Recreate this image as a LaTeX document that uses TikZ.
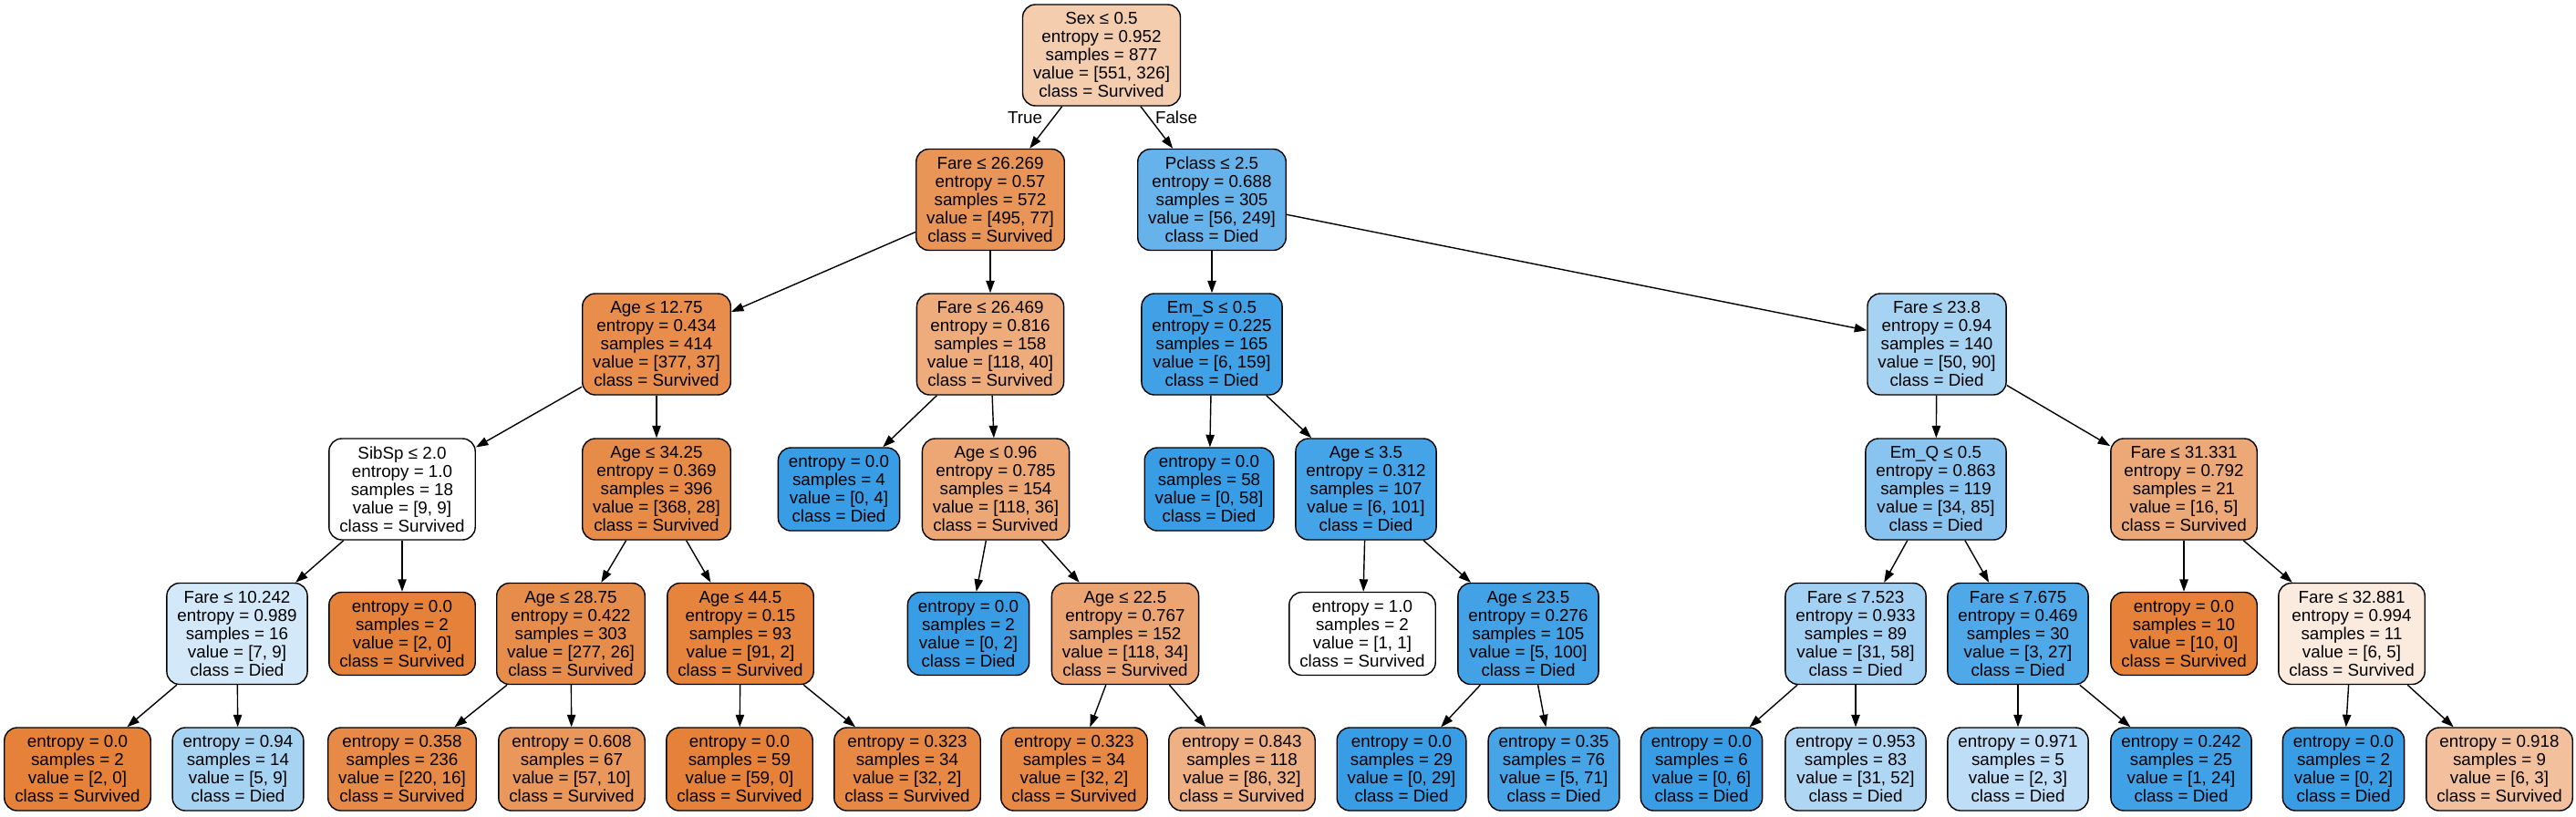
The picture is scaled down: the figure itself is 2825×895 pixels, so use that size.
\documentclass[tikz,border=0pt]{standalone}
\usepackage{fontspec}
\setmainfont{Liberation Sans}
\usetikzlibrary{arrows.meta}
\definecolor{surv}{RGB}{229,129,57}
\definecolor{died}{RGB}{57,157,229}
\tikzset{
  box/.style={draw=black, line width=0.7pt, rounded corners=7pt, align=center,
    inner xsep=5.75pt, inner ysep=0pt, font=\fontsize{9.4}{10}\selectfont},
  split/.style={box, minimum height=55.5pt},
  leaf/.style={box, minimum height=45.5pt},
  edge/.style={draw=black, line width=0.7pt, -{Triangle[length=6.75pt,width=4.7pt]}},
  lbl/.style={font=\fontsize{9.4}{10}\selectfont, inner sep=0pt}
}
\begin{document}
\begin{tikzpicture}[x=0.5pt,y=-0.5pt]
\useasboundingbox (0,0) rectangle (2825,895);
% level 0
\node[split, fill=surv!40.8!white] (n0) at (1208,60.5) {Sex ≤ 0.5\\entropy = 0.952\\samples = 877\\value = [551, 326]\\class = Survived};
% level 1
\node[split, fill=surv!84.4!white] (n1) at (1086,219) {Fare ≤ 26.269\\entropy = 0.57\\samples = 572\\value = [495, 77]\\class = Survived};
\node[split, fill=died!77.5!white] (n2) at (1329,219) {Pclass ≤ 2.5\\entropy = 0.688\\samples = 305\\value = [56, 249]\\class = Died};
% level 2
\node[split, fill=surv!90.2!white] (n3) at (720,377.5) {Age ≤ 12.75\\entropy = 0.434\\samples = 414\\value = [377, 37]\\class = Survived};
\node[split, fill=surv!66.1!white] (n4) at (1086,377.5) {Fare ≤ 26.469\\entropy = 0.816\\samples = 158\\value = [118, 40]\\class = Survived};
\node[split, fill=died!96.2!white] (n5) at (1329,377.5) {Em\_S ≤ 0.5\\entropy = 0.225\\samples = 165\\value = [6, 159]\\class = Died};
\node[split, fill=died!44.4!white] (n6) at (2124,377.5) {Fare ≤ 23.8\\entropy = 0.94\\samples = 140\\value = [50, 90]\\class = Died};
% level 3
\node[split, fill=white] (n7) at (441,536.5) {SibSp ≤ 2.0\\entropy = 1.0\\samples = 18\\value = [9, 9]\\class = Survived};
\node[split, fill=surv!92.4!white] (n8) at (720,536.5) {Age ≤ 34.25\\entropy = 0.369\\samples = 396\\value = [368, 28]\\class = Survived};
\node[leaf, fill=died] (n9) at (920,536.5) {entropy = 0.0\\samples = 4\\value = [0, 4]\\class = Died};
\node[split, fill=surv!69.5!white] (n10) at (1092,536.5) {Age ≤ 0.96\\entropy = 0.785\\samples = 154\\value = [118, 36]\\class = Survived};
\node[leaf, fill=died] (n11) at (1326,536.5) {entropy = 0.0\\samples = 58\\value = [0, 58]\\class = Died};
\node[split, fill=died!94.1!white] (n12) at (1498,536.5) {Age ≤ 3.5\\entropy = 0.312\\samples = 107\\value = [6, 101]\\class = Died};
\node[split, fill=died!60!white] (n13) at (2123,536.5) {Em\_Q ≤ 0.5\\entropy = 0.863\\samples = 119\\value = [34, 85]\\class = Died};
\node[split, fill=surv!68.8!white] (n14) at (2395,536.5) {Fare ≤ 31.331\\entropy = 0.792\\samples = 21\\value = [16, 5]\\class = Survived};
% level 4
\node[split, fill=died!22.2!white] (n15) at (260,695) {Fare ≤ 10.242\\entropy = 0.989\\samples = 16\\value = [7, 9]\\class = Died};
\node[leaf, fill=surv] (n16) at (441,695) {entropy = 0.0\\samples = 2\\value = [2, 0]\\class = Survived};
\node[split, fill=surv!90.6!white] (n17) at (626,695) {Age ≤ 28.75\\entropy = 0.422\\samples = 303\\value = [277, 26]\\class = Survived};
\node[split, fill=surv!97.8!white] (n18) at (812,695) {Age ≤ 44.5\\entropy = 0.15\\samples = 93\\value = [91, 2]\\class = Survived};
\node[leaf, fill=died] (n19) at (1062,695) {entropy = 0.0\\samples = 2\\value = [0, 2]\\class = Died};
\node[split, fill=surv!71.2!white] (n20) at (1234,695) {Age ≤ 22.5\\entropy = 0.767\\samples = 152\\value = [118, 34]\\class = Survived};
\node[leaf, fill=white] (n21) at (1494,695) {entropy = 1.0\\samples = 2\\value = [1, 1]\\class = Survived};
\node[split, fill=died!95!white] (n22) at (1676,695) {Age ≤ 23.5\\entropy = 0.276\\samples = 105\\value = [5, 100]\\class = Died};
\node[split, fill=died!46.6!white] (n23) at (2035,695) {Fare ≤ 7.523\\entropy = 0.933\\samples = 89\\value = [31, 58]\\class = Died};
\node[split, fill=died!88.9!white] (n24) at (2213,695) {Fare ≤ 7.675\\entropy = 0.469\\samples = 30\\value = [3, 27]\\class = Died};
\node[leaf, fill=surv] (n25) at (2395,695) {entropy = 0.0\\samples = 10\\value = [10, 0]\\class = Survived};
\node[split, fill=surv!16.7!white] (n26) at (2579,695) {Fare ≤ 32.881\\entropy = 0.994\\samples = 11\\value = [6, 5]\\class = Survived};
% level 5
\node[leaf, fill=surv] (n27) at (85,843.5) {entropy = 0.0\\samples = 2\\value = [2, 0]\\class = Survived};
\node[leaf, fill=died!44.4!white] (n28) at (261,843.5) {entropy = 0.94\\samples = 14\\value = [5, 9]\\class = Died};
\node[leaf, fill=surv!92.7!white] (n29) at (441,843.5) {entropy = 0.358\\samples = 236\\value = [220, 16]\\class = Survived};
\node[leaf, fill=surv!82.5!white] (n30) at (627,843.5) {entropy = 0.608\\samples = 67\\value = [57, 10]\\class = Survived};
\node[leaf, fill=surv] (n31) at (811,843.5) {entropy = 0.0\\samples = 59\\value = [59, 0]\\class = Survived};
\node[leaf, fill=surv!93.8!white] (n32) at (995,843.5) {entropy = 0.323\\samples = 34\\value = [32, 2]\\class = Survived};
\node[leaf, fill=surv!93.8!white] (n33) at (1178,843.5) {entropy = 0.323\\samples = 34\\value = [32, 2]\\class = Survived};
\node[leaf, fill=surv!62.8!white] (n34) at (1362,843.5) {entropy = 0.843\\samples = 118\\value = [86, 32]\\class = Survived};
\node[leaf, fill=died] (n35) at (1537,843.5) {entropy = 0.0\\samples = 29\\value = [0, 29]\\class = Died};
\node[leaf, fill=died!93!white] (n36) at (1704,843.5) {entropy = 0.35\\samples = 76\\value = [5, 71]\\class = Died};
\node[leaf, fill=died] (n37) at (1866,843.5) {entropy = 0.0\\samples = 6\\value = [0, 6]\\class = Died};
\node[leaf, fill=died!40.4!white] (n38) at (2035,843.5) {entropy = 0.953\\samples = 83\\value = [31, 52]\\class = Died};
\node[leaf, fill=died!33.3!white] (n39) at (2213,843.5) {entropy = 0.971\\samples = 5\\value = [2, 3]\\class = Died};
\node[leaf, fill=died!95.8!white] (n40) at (2392,843.5) {entropy = 0.242\\samples = 25\\value = [1, 24]\\class = Died};
\node[leaf, fill=died] (n41) at (2570,843.5) {entropy = 0.0\\samples = 2\\value = [0, 2]\\class = Died};
\node[leaf, fill=surv!50!white] (n42) at (2741,843.5) {entropy = 0.918\\samples = 9\\value = [6, 3]\\class = Survived};
% edges
\draw[edge] (n0) -- (n1);
\draw[edge] (n0) -- (n2);
\draw[edge] (n1) -- (n3);
\draw[edge] (n1) -- (n4);
\draw[edge] (n2) -- (n5);
\draw[edge] (n2) -- (n6);
\draw[edge] (n3) -- (n7);
\draw[edge] (n3) -- (n8);
\draw[edge] (n4) -- (n9);
\draw[edge] (n4) -- (n10);
\draw[edge] (n5) -- (n11);
\draw[edge] (n5) -- (n12);
\draw[edge] (n6) -- (n13);
\draw[edge] (n6) -- (n14);
\draw[edge] (n7) -- (n15);
\draw[edge] (n7) -- (n16);
\draw[edge] (n8) -- (n17);
\draw[edge] (n8) -- (n18);
\draw[edge] (n10) -- (n19);
\draw[edge] (n10) -- (n20);
\draw[edge] (n12) -- (n21);
\draw[edge] (n12) -- (n22);
\draw[edge] (n13) -- (n23);
\draw[edge] (n13) -- (n24);
\draw[edge] (n14) -- (n25);
\draw[edge] (n14) -- (n26);
\draw[edge] (n15) -- (n27);
\draw[edge] (n15) -- (n28);
\draw[edge] (n17) -- (n29);
\draw[edge] (n17) -- (n30);
\draw[edge] (n18) -- (n31);
\draw[edge] (n18) -- (n32);
\draw[edge] (n20) -- (n33);
\draw[edge] (n20) -- (n34);
\draw[edge] (n22) -- (n35);
\draw[edge] (n22) -- (n36);
\draw[edge] (n23) -- (n37);
\draw[edge] (n23) -- (n38);
\draw[edge] (n24) -- (n39);
\draw[edge] (n24) -- (n40);
\draw[edge] (n26) -- (n41);
\draw[edge] (n26) -- (n42);
% edge labels
\node[lbl] (ltrue) at (1124,129) {True};
\node[lbl] (lfalse) at (1290,129) {False};
\end{tikzpicture}
\end{document}
